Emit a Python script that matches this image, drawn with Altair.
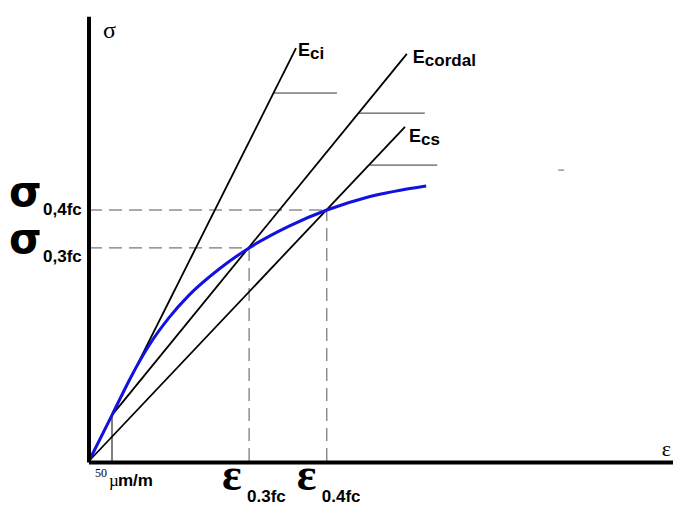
import altair as alt
import pandas as pd

# Concrete stress-strain curve: strain in µm/m, stress in MPa
curve_eps = [0, 50, 89, 130, 174, 217, 283, 348, 435, 517, 609, 733]
curve_sig = [0, 1.83, 3.27, 4.59, 5.71, 6.60, 7.65, 8.49, 9.36, 10.0, 10.53, 10.96]

# characteristic points
eps_50, sig_50 = 50, 1.83
eps_03, sig_03 = 348, 8.49
eps_04, sig_04 = 517, 10.0

# modulus lines (initial tangent, chord, secant)
mod_names = ["Eci", "Ecordal", "Ecs"]
mod_eps0 = [0, 50, 0]
mod_sig0 = [0, 1.83, 0]
mod_eps1 = [450, 691, 687]
mod_sig1 = [16.45, 16.22, 13.31]

# horizontal legs of the slope triangles
leg_sig = [14.66, 13.86, 11.79]
leg_eps0 = [401, 586, 610]
leg_eps1 = [539, 730, 757]

axis_eps_max = 1270
axis_sig_max = 17.7

xs = alt.Scale(domain=[-193.5, 1269.6], nice=False, zero=False)
ys = alt.Scale(domain=[-1.753, 18.367], nice=False, zero=False)


def X(f="eps"):
    return alt.X(f"{f}:Q", scale=xs, axis=None)


def Y(f="sig"):
    return alt.Y(f"{f}:Q", scale=ys, axis=None)


def segs(e0, s0, e1, s1):
    return pd.DataFrame({"eps": e0, "sig": s0, "eps2": e1, "sig2": s1})


def seg_layer(df, **kw):
    return alt.Chart(df).mark_rule(**kw).encode(
        x=X(), y=Y(), x2="eps2:Q", y2="sig2:Q"
    )


# axes
axes = seg_layer(
    segs([0, 0], [-0.06, -0.06], [0, axis_eps_max], [axis_sig_max, -0.06]),
    color="black", strokeWidth=4, clip=True,
)

# dashed guides to the 0.3fc and 0.4fc points
dashed = seg_layer(
    segs([0, 0, eps_03, eps_04], [sig_03, sig_04, 0, 0],
         [eps_03, eps_04, eps_03, eps_04], [sig_03, sig_04, sig_03, sig_04]),
    color="#555555", strokeWidth=1, strokeDash=[13, 7],
)

# vertical mark at 50 µm/m
mark50 = seg_layer(segs([eps_50], [0], [eps_50], [sig_50]), color="black", strokeWidth=1)

moduli = seg_layer(segs(mod_eps0, mod_sig0, mod_eps1, mod_sig1), color="black", strokeWidth=1.8)

legs = seg_layer(segs(leg_eps0, leg_sig, leg_eps1, leg_sig), color="#333333", strokeWidth=1)

stray = seg_layer(segs([1020], [11.59], [1033], [11.59]), color="#999999", strokeWidth=1.5)

curve = alt.Chart(pd.DataFrame({"eps": curve_eps, "sig": curve_sig})).mark_line(
    color="#1212e0", strokeWidth=3, interpolate="monotone"
).encode(x=X(), y=Y())


def label(text, eps, sig, dx, dy, size, font="Liberation Sans", weight="normal"):
    return alt.Chart(pd.DataFrame({"eps": [eps], "sig": [sig], "t": [text]})).mark_text(
        align="left", baseline="alphabetic", dx=dx, dy=dy,
        fontSize=size, font=font, fontWeight=weight, color="black",
    ).encode(x=X(), y=Y(), text="t:N")


serif = "Liberation Serif"
greek = "DejaVu Sans"
labels = [
    label("σ", 0, axis_sig_max, 14, 21, 24, serif),
    label("ε", 1254, 0, -4, -5, 22, serif),
    label("σ", 0, sig_04, -80, -4, 42, greek, "bold"),
    label("0,4fc", 0, sig_04, -46, 5, 17, weight="bold"),
    label("σ", 0, sig_03, -80, 5, 42, greek, "bold"),
    label("0,3fc", 0, sig_03, -46, 14, 17, weight="bold"),
    label("ε", eps_03, 0, -27, 29, 46, serif, "bold"),
    label("0.3fc", eps_03, 0, -2, 41, 17, weight="bold"),
    label("ε", eps_04, 0, -30, 29, 46, serif, "bold"),
    label("0.4fc", eps_04, 0, -5, 41, 17, weight="bold"),
    label("50", eps_50, 0, -17, 16, 12, serif),
    label("µ", eps_50, 0, -3, 25, 17, serif),
    label("m/m", eps_50, 0, 6, 25, 17, weight="bold"),
]
for name, e, s, d in zip(mod_names, mod_eps1, mod_sig1, [(2, 8), (6, 9), (4, 15)]):
    labels.append(label("E", e, s, d[0], d[1], 18, weight="bold"))
    labels.append(label(name[1:], e, s, d[0] + 12, d[1] + 3, 17, weight="bold"))

chart = alt.layer(
    dashed, legs, stray, mark50, moduli, curve, axes, *labels
).properties(
    width=673, height=505, padding=0, autosize="none"
).configure_view(stroke=None)

chart.save("out.html", embed_options={"renderer": "svg", "actions": False})
